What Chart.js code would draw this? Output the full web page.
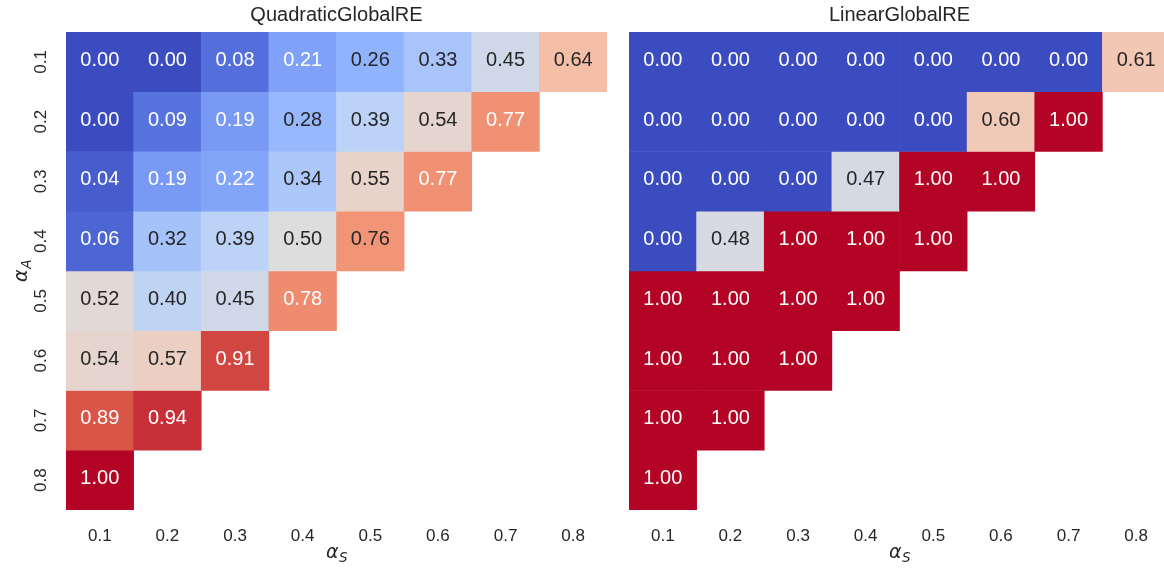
<!DOCTYPE html>
<html>
<head>
<meta charset="utf-8">
<script src="https://cdn.jsdelivr.net/npm/chart.js@4"></script>
<style>
  html, body { margin: 0; padding: 0; background: #fff; overflow: hidden; }
  #wrap { position: relative; width: 1164px; height: 569px; overflow: hidden; }
  canvas { position: absolute; top: 0; }
  #left { left: 0; }
  #right { left: 563px; }
</style>
</head>
<body>
<div id="wrap">
  <canvas id="right" width="620" height="569"></canvas>
  <canvas id="left" width="620" height="569"></canvas>
</div>
<script>
/* heatmap values, rows = alpha_A, cols = alpha_S (null = masked) */
const alphaS = ["0.1", "0.2", "0.3", "0.4", "0.5", "0.6", "0.7", "0.8"];
const alphaA = ["0.1", "0.2", "0.3", "0.4", "0.5", "0.6", "0.7", "0.8"];

const quadRows = [
  [0.00, 0.00, 0.08, 0.21, 0.26, 0.33, 0.45, 0.64],
  [0.00, 0.09, 0.19, 0.28, 0.39, 0.54, 0.77, null],
  [0.04, 0.19, 0.22, 0.34, 0.55, 0.77, null, null],
  [0.06, 0.32, 0.39, 0.50, 0.76, null, null, null],
  [0.52, 0.40, 0.45, 0.78, null, null, null, null],
  [0.54, 0.57, 0.91, null, null, null, null, null],
  [0.89, 0.94, null, null, null, null, null, null],
  [1.00, null, null, null, null, null, null, null]
];

const linRows = [
  [0.00, 0.00, 0.00, 0.00, 0.00, 0.00, 0.00, 0.61],
  [0.00, 0.00, 0.00, 0.00, 0.00, 0.60, 1.00, null],
  [0.00, 0.00, 0.00, 0.47, 1.00, 1.00, null, null],
  [0.00, 0.48, 1.00, 1.00, 1.00, null, null, null],
  [1.00, 1.00, 1.00, 1.00, null, null, null, null],
  [1.00, 1.00, 1.00, null, null, null, null, null],
  [1.00, 1.00, null, null, null, null, null, null],
  [1.00, null, null, null, null, null, null, null]
];

/* coolwarm anchors at 0, 1/8 ... 1 */
const COOLWARM = [
  [59, 76, 192], [98, 130, 234], [141, 176, 254], [184, 208, 249], [221, 221, 221],
  [245, 196, 173], [244, 154, 123], [222, 96, 77], [180, 4, 38]
];

const FONT = '"Liberation Sans", Arial, sans-serif';
const DARK = "#262626";

function cmap(v) {
  const t = Math.min(Math.max(v, 0), 1) * (COOLWARM.length - 1);
  const i = Math.min(Math.floor(t), COOLWARM.length - 2);
  const f = t - i;
  return COOLWARM[i].map((c, k) => Math.round(c + (COOLWARM[i + 1][k] - c) * f));
}

// same rule seaborn uses to pick the annotation colour
function textColour(v) {
  const lin = cmap(v).map(c => {
    c /= 255;
    return c <= 0.03928 ? c / 12.92 : Math.pow((c + 0.055) / 1.055, 2.4);
  });
  const lum = 0.2126 * lin[0] + 0.7152 * lin[1] + 0.0722 * lin[2];
  return lum > 0.408 ? DARK : "#ffffff";
}

/* alpha with italic subscript, mathtext style */
function drawMath(ctx, sub, x, y, rot) {
  ctx.save();
  ctx.translate(x, y);
  ctx.rotate(rot);
  ctx.fillStyle = DARK;
  ctx.textBaseline = "alphabetic";
  ctx.textAlign = "left";
  const big = 'italic 19px "DejaVu Sans"';
  const small = 'italic 13.5px "DejaVu Sans"';
  ctx.font = big;
  const w1 = ctx.measureText("\u03b1").width;
  ctx.font = small;
  const w2 = ctx.measureText(sub).width;
  const x0 = -(w1 + w2) / 2;
  ctx.font = big;
  ctx.fillText("\u03b1", x0, 5);
  ctx.font = small;
  ctx.fillText(sub, x0 + w1 + 0.5, 9);
  ctx.restore();
}

const annotate = {
  id: "annotate",
  afterDatasetsDraw(chart, args, opts) {
    const ctx = chart.ctx;
    ctx.save();
    ctx.font = "20px " + FONT;
    ctx.textAlign = "center";
    ctx.textBaseline = "middle";
    chart.data.datasets.forEach((ds, i) => {
      chart.getDatasetMeta(i).data.forEach((bar, j) => {
        const v = ds.vals[j];
        if (v == null) return;
        const p = bar.getProps(["x", "y", "base"], true);
        ctx.fillStyle = textColour(v);
        ctx.fillText(v.toFixed(2), p.x, (p.y + p.base) / 2 - 1.5);
      });
    });
    ctx.restore();
    const a = chart.chartArea;
    drawMath(ctx, "S", (a.left + a.right) / 2, 553, 0);
    if (opts.yTitle) drawMath(ctx, "A", 22, (a.top + a.bottom) / 2, -Math.PI / 2);
  }
};

function makeHeatmap(id, title, rows, showY) {
  const datasets = rows.map((row, i) => ({
    data: row.map(v => (v == null ? null : [i, i + 1])),
    vals: row,
    backgroundColor: row.map(v => (v == null ? "rgba(0,0,0,0)" : "rgb(" + cmap(v).join(",") + ")")),
    borderWidth: 0,
    categoryPercentage: 1,
    barPercentage: 1,
    grouped: false
  }));

  return new Chart(document.getElementById(id), {
    type: "bar",
    data: { labels: alphaS, datasets },
    plugins: [annotate],
    options: {
      responsive: false,
      animation: false,
      layout: { padding: { left: 0, right: 13, top: 0, bottom: 0 } },
      plugins: {
        legend: { display: false },
        tooltip: { enabled: false },
        annotate: { yTitle: showY },
        title: {
          display: true,
          text: title,
          fullSize: false,
          color: DARK,
          font: { family: FONT, size: 20, weight: "normal" },
          padding: { top: 3, bottom: 5 }
        }
      },
      scales: {
        x: {
          type: "category",
          grid: { display: false },
          border: { display: false },
          ticks: { color: DARK, font: { family: FONT, size: 17 }, padding: 8, maxRotation: 0 },
          afterFit: s => { s.height = 59; }
        },
        y: {
          type: "linear",
          min: 0, max: 8,
          reverse: true,
          grid: { display: false },
          border: { display: false },
          afterBuildTicks: s => { s.ticks = alphaA.map((_, i) => ({ value: i + 0.5 })); },
          ticks: {
            display: showY,
            callback: (v, i) => alphaA[i],
            color: DARK,
            font: { family: FONT, size: 17 },
            minRotation: 90, maxRotation: 90,
            crossAlign: "center",
            padding: 5
          },
          afterFit: s => { s.width = 66; }
        }
      }
    }
  });
}

makeHeatmap("left", "QuadraticGlobalRE", quadRows, true);
makeHeatmap("right", "LinearGlobalRE", linRows, false);
</script>
</body>
</html>
